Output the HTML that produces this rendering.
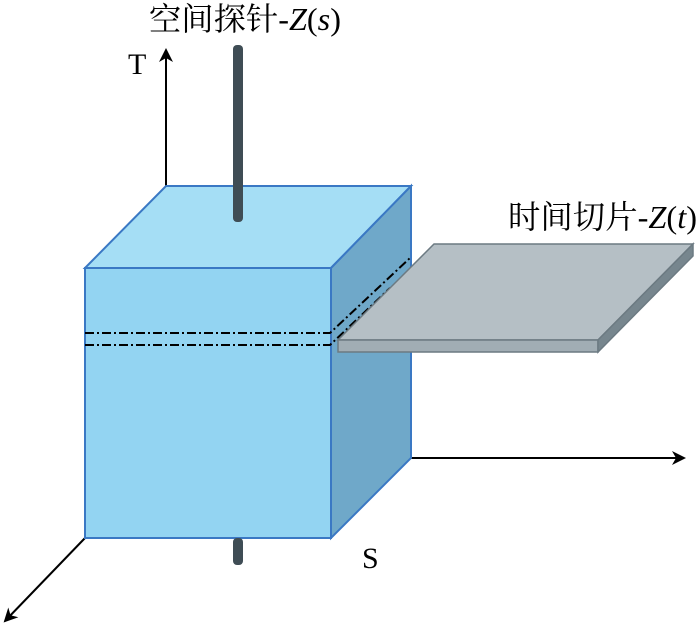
<!DOCTYPE html>
<html><head><meta charset="utf-8"><style>body{margin:0;background:#fff}</style></head><body>
<svg width="700" height="627" viewBox="0 0 700 627" xmlns="http://www.w3.org/2000/svg">
<defs><marker id="a" markerWidth="14" markerHeight="14" refX="12" refY="7" orient="auto" markerUnits="userSpaceOnUse"><path d="M0,0 L14,7 L0,14 L4,7 Z" fill="#000"/></marker></defs>
<line x1="166" y1="190" x2="166" y2="50" stroke="#000" stroke-width="2" marker-end="url(#a)"/>
<line x1="411" y1="458" x2="684" y2="458" stroke="#000" stroke-width="2" marker-end="url(#a)"/>
<line x1="85" y1="538" x2="5" y2="621" stroke="#000" stroke-width="2" marker-end="url(#a)"/>
<polygon points="85,268 166,186 411,186 331,268" fill="#a5def5" stroke="#3a78c4" stroke-width="2"/>
<polygon points="331,268 411,186 411,458 331,538" fill="#6fa8c9" stroke="#3a78c4" stroke-width="2"/>
<rect x="85" y="268" width="246" height="270" fill="#93d4f2" stroke="#3a78c4" stroke-width="2"/>
<rect x="233" y="45" width="10" height="177" rx="4" fill="#3f4d55"/>
<rect x="233" y="538" width="10" height="27" rx="4" fill="#3f4d55"/>
<polyline points="85,333 330,333 410,258" fill="none" stroke="#000" stroke-width="2" stroke-dasharray="9,3,2,3"/>
<polyline points="85,345 330,345 390,288" fill="none" stroke="#000" stroke-width="2" stroke-dasharray="9,3,2,3"/>
<polygon points="434,244 693,244 598,340 338,340" fill="#b5bfc5" stroke="#6c7a82" stroke-width="1.5"/>
<polygon points="338,340 598,340 598,352 338,352" fill="#a1adb4" stroke="#6c7a82" stroke-width="1.5"/>
<polygon points="598,340 693,244 693,256 598,352" fill="#77868e" stroke="#6c7a82" stroke-width="1.5"/>
<text x="128" y="74" font-family="Liberation Serif, serif" font-size="30">T</text>
<text x="362" y="568" font-family="Liberation Serif, serif" font-size="30">S</text>
<text x="149" y="30" font-family="Liberation Serif, 'Noto Serif CJK SC', serif" font-size="32" textLength="192" lengthAdjust="spacingAndGlyphs">空间探针-<tspan font-style="italic">Z</tspan>(<tspan font-style="italic">s</tspan>)</text>
<text x="508" y="228" font-family="Liberation Serif, 'Noto Serif CJK SC', serif" font-size="32" textLength="189" lengthAdjust="spacingAndGlyphs">时间切片-<tspan font-style="italic">Z</tspan>(<tspan font-style="italic">t</tspan>)</text>
</svg>
</body></html>
